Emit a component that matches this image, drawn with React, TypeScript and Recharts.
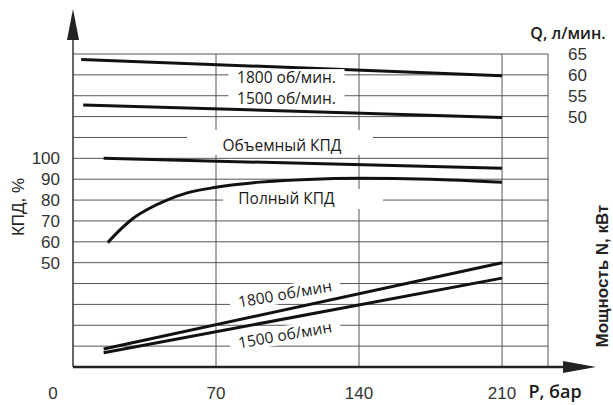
import { LineChart, Line, XAxis, YAxis, CartesianGrid, ReferenceDot } from 'recharts'

const pressureTicks = [0, 70, 140, 210]
const efficiencyTicks = [50, 60, 70, 80, 90, 100]
const flowTicks = [50, 55, 60, 65]
const powerTicks = [10, 20, 30]

// Q, л/мин.
const flowPressure = [4, 210]
const flow1800 = [63.7, 59.8]
const flow1500Pressure = [5, 210]
const flow1500 = [52.8, 49.8]

// КПД, %
const volumetricPressure = [15, 210]
const volumetricEff = [100, 95.2]
const totalPressure = [17, 23, 29.5, 37.5, 46, 55.5, 70, 91.5, 115, 140, 175, 210]
const totalEff = [59.6, 65.7, 71.3, 76.1, 80, 83.3, 86.1, 88.6, 89.9, 90.4, 90, 88.5]

// Мощность N, кВт
const powerPressure = [15, 210]
const power1800 = [4.3, 25]
const power1500 = [3.4, 21.3]

const zip = (xs: number[], ys: number[]) => xs.map((p, i) => ({ p, v: ys[i] }))

const gridKpd = Array.from({ length: 16 }, (_, i) => i * 10)

const tickFont = '"Liberation Sans", Arial, sans-serif'
const noteFont = '"Open Sans", sans-serif'

function Note({ viewBox, text, w, h, rx = 0, ry = 0, rot = 0 }: any) {
  const cx = viewBox.x + (viewBox.width || 0) / 2
  const cy = viewBox.y + (viewBox.height || 0) / 2
  return (
    <g transform={`translate(${cx},${cy}) rotate(${rot})`}>
      <rect x={-w / 2 + rx} y={-h / 2 + ry} width={w} height={h} fill="#fff" />
      <text x={0} y={0} textAnchor="middle" dy="0.35em" fontFamily={noteFont} fontSize={15.5} fill="#1a1a1a">
        {text}
      </text>
    </g>
  )
}

function PressureTick({ x, y, payload }: any) {
  return (
    <text x={payload.value === 0 ? x - 20 : x} y={y} dy={30} textAnchor="middle"
      fontFamily={tickFont} fontSize={17} fill="#333">
      {payload.value}
    </text>
  )
}

function PowerTick({ x, y, payload }: any) {
  return (
    <text x={x - 45} y={y} dy="0.355em" textAnchor="start" fontFamily={tickFont} fontSize={17} fill="#333">
      {payload.value}
    </text>
  )
}

const line = { type: 'linear' as const, stroke: '#111', strokeWidth: 3, dot: false, isAnimationActive: false }

export default function App() {
  return (
    <div style={{ position: 'absolute', left: 0, top: 0, width: 613, height: 405, background: '#fff' }}>
      <LineChart width={613} height={405} margin={{ top: 54, right: 0, bottom: 0, left: 0 }}>
        <CartesianGrid yAxisId="kpd" stroke="#555" strokeWidth={1}
          horizontalValues={gridKpd} verticalValues={[70, 140, 210]} />
        <XAxis dataKey="p" type="number" domain={[0, 232.5]} ticks={pressureTicks} interval={0}
          height={38} tickSize={0} tickLine={false} axisLine={{ stroke: '#222', strokeWidth: 2.5 }}
          tick={<PressureTick />} />
        <YAxis yAxisId="kpd" orientation="left" width={73} domain={[0, 150]} ticks={efficiencyTicks}
          interval={0} tickSize={0} tickMargin={13} tickLine={false}
          axisLine={{ stroke: '#333', strokeWidth: 1.5 }}
          tick={{ fontFamily: tickFont, fontSize: 17, fill: '#333' }} />
        <YAxis yAxisId="q" orientation="right" width={65} domain={[-10, 65]} ticks={flowTicks}
          interval={0} tickSize={0} tickMargin={20} tickLine={false}
          axisLine={{ stroke: '#555', strokeWidth: 1 }}
          tick={{ fontFamily: tickFont, fontSize: 17, fill: '#333' }} />
        <YAxis yAxisId="n" orientation="right" width={0} domain={[0, 75]} ticks={powerTicks}
          interval={0} tickSize={0} tickLine={false} axisLine={false} tick={<PowerTick />} />

        <Line {...line} data={zip(flowPressure, flow1800)} dataKey="v" yAxisId="q" />
        <Line {...line} data={zip(flow1500Pressure, flow1500)} dataKey="v" yAxisId="q" />
        <Line {...line} data={zip(volumetricPressure, volumetricEff)} dataKey="v" yAxisId="kpd" />
        <Line {...line} type="monotone" data={zip(totalPressure, totalEff)} dataKey="v" yAxisId="kpd" />
        <Line {...line} data={zip(powerPressure, power1800)} dataKey="v" yAxisId="n" />
        <Line {...line} data={zip(powerPressure, power1500)} dataKey="v" yAxisId="n" />

        <ReferenceDot yAxisId="kpd" x={104.5} y={138.7} r={0} stroke="none"
          label={<Note text="1800 об/мин." w={116} h={17} />} />
        <ReferenceDot yAxisId="kpd" x={104.5} y={128.7} r={0} stroke="none"
          label={<Note text="1500 об/мин." w={116} h={17} />} />
        <ReferenceDot yAxisId="kpd" x={102.3} y={106.2} r={0} stroke="none"
          label={<Note text="Объемный КПД" w={186} h={25} rx={-2} ry={-3} />} />
        <ReferenceDot yAxisId="kpd" x={104.5} y={80.5} r={0} stroke="none"
          label={<Note text="Полный КПД" w={160} h={20} rx={16.5} />} />
        <ReferenceDot yAxisId="kpd" x={103.8} y={35} r={0} stroke="none"
          label={<Note text="1800 об/мин" w={112} h={18} rot={-10} />} />
        <ReferenceDot yAxisId="kpd" x={103.8} y={15.4} r={0} stroke="none"
          label={<Note text="1500 об/мин" w={112} h={18} rot={-10} />} />
      </LineChart>

      <svg width={613} height={405} style={{ position: 'absolute', left: 0, top: 0, pointerEvents: 'none' }}>
        <line x1={73} y1={54} x2={73} y2={30} stroke="#333" strokeWidth={1.5} />
        <polygon points="73,9 67,40 79,40" fill="#222" />
        <line x1={548} y1={367} x2={570} y2={367} stroke="#222" strokeWidth={2.5} />
        <polygon points="596,367 563,361 563,373" fill="#222" />
        <text transform="translate(24,207) rotate(-90)" textAnchor="middle" fontFamily={tickFont}
          fontSize={17} fill="#222">КПД, %</text>
        <text transform="translate(608,276) rotate(-90)" textAnchor="middle" fontFamily={tickFont}
          fontSize={17} fontWeight={700} fill="#222">Мощность N, кВт</text>
        <text x={568} y={39} textAnchor="middle" fontFamily={noteFont} fontSize={16} fontWeight={600}
          fill="#1a1a1a">Q, л/мин.</text>
        <text x={555} y={398} textAnchor="middle" fontFamily={noteFont} fontSize={18} fontWeight={600}
          fill="#1a1a1a">P, бар</text>
      </svg>
    </div>
  )
}
